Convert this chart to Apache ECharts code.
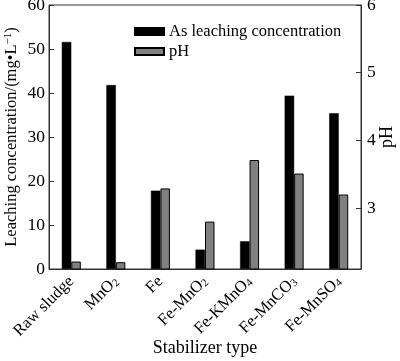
<!DOCTYPE html>
<html><head><meta charset="utf-8">
<script src="https://cdn.jsdelivr.net/npm/echarts@6/dist/echarts.min.js"></script>
<style>html,body{margin:0;padding:0;background:#fff}#c{width:400px;height:361px}</style>
</head><body><div id="c"></div>
<script>
const categories = ['Raw sludge','MnO2','Fe','Fe-MnO2','Fe-KMnO4','Fe-MnCO3','Fe-MnSO4'];
const asConcentration = [51.6, 41.8, 17.8, 4.4, 6.3, 39.4, 35.4];
const phValues = [2.21, 2.2, 3.29, 2.8, 3.71, 3.51, 3.2];
const leftTicks = [0, 10, 20, 30, 40, 50, 60];
const rightTicks = [3, 4, 5, 6];

const FONT = 'Liberation Serif';
const chart = echarts.init(document.getElementById('c'));
chart.setOption({
  animation: false,
  textStyle: {fontFamily: FONT, color: '#000'},
  grid: {left: 49, right: 39, top: 5, bottom: 92, show: true, borderColor: '#333', borderWidth: 1,
    containLabel: false, outerBoundsMode: 'none'},
  legend: {
    left: 129, top: 18, orient: 'vertical', itemWidth: 29, itemHeight: 7, itemGap: 3,
    textStyle: {fontFamily: FONT, fontSize: 16.5, color: '#000'},
    data: [{name: 'As leaching concentration', icon: 'rect'}, {name: 'pH', icon: 'rect'}]
  },
  xAxis: {
    type: 'category', data: categories,
    name: 'Stabilizer type', nameLocation: 'middle', nameGap: 70, nameMoveOverlap: false,
    nameTextStyle: {fontFamily: FONT, fontSize: 18, color: '#000'},
    axisLine: {lineStyle: {color: '#333'}},
    axisTick: {show: false},
    axisLabel: {
      interval: 0, rotate: 45, fontFamily: FONT, fontSize: 16.5, color: '#000', margin: 10,
      formatter: v => v.replace(/(\d)/g, '{s|$1}'),
      rich: {s: {fontFamily: FONT, fontSize: 11, verticalAlign: 'bottom', color: '#000'}}
    }
  },
  yAxis: [{
    type: 'value', min: 0, max: 60, interval: 10, position: 'left',
    name: 'Leaching concentration/(mg•L{sup|−1})', nameLocation: 'middle', nameGap: 29, nameRotate: 90,
    nameMoveOverlap: false,
    nameTextStyle: {fontFamily: FONT, fontSize: 16.5, color: '#000',
      rich: {sup: {fontFamily: FONT, fontSize: 11, verticalAlign: 'top', color: '#000'}}},
    axisLine: {show: true, lineStyle: {color: '#333'}},
    axisTick: {show: true, inside: true, length: 5, lineStyle: {color: '#333'}},
    splitLine: {show: false},
    axisLabel: {fontFamily: FONT, fontSize: 17.5, color: '#000', margin: 4,
      customValues: leftTicks}
  }, {
    type: 'value', min: 2.1, max: 6, position: 'right',
    name: 'pH', nameLocation: 'middle', nameGap: 17, nameRotate: 90, nameMoveOverlap: false,
    nameTextStyle: {fontFamily: FONT, fontSize: 18, color: '#000'},
    axisLine: {show: true, lineStyle: {color: '#333'}},
    axisTick: {show: true, inside: true, length: 5, lineStyle: {color: '#333'}, customValues: rightTicks},
    splitLine: {show: false},
    axisLabel: {fontFamily: FONT, fontSize: 17.5, color: '#000', margin: 6, customValues: rightTicks}
  }],
  series: [{
    name: 'As leaching concentration', type: 'bar', yAxisIndex: 0, data: asConcentration,
    barWidth: 9.5, barGap: '0%',
    itemStyle: {color: '#000', borderColor: '#000', borderWidth: 0.5}
  }, {
    name: 'pH', type: 'bar', yAxisIndex: 1, data: phValues,
    barWidth: 9.5, barGap: '0%',
    itemStyle: {color: '#808080', borderColor: '#000', borderWidth: 1}
  }]
});
</script></body></html>
